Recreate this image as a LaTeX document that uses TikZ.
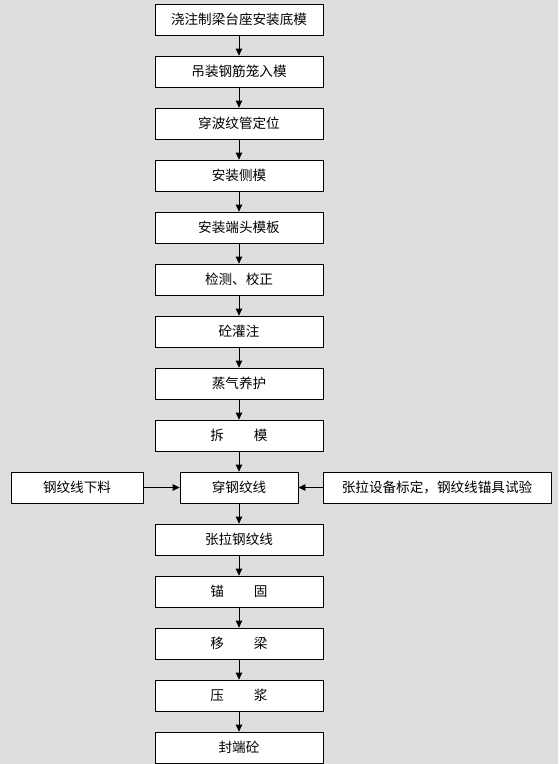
\documentclass[tikz,border=0pt]{standalone}
\usepackage{fontspec}
\setmainfont{Noto Sans CJK SC}
\usetikzlibrary{arrows.meta,positioning}
\definecolor{bggray}{RGB}{222,222,222}

\tikzset{
  stepbox/.style={draw,fill=white,line width=0.8pt,minimum height=31pt,inner sep=0pt,
    font=\fontsize{13.6}{15}\selectfont},
  flow/.style={line width=0.8pt,-{Triangle[length=7pt,width=6.5pt]}}
}

\begin{document}
\begin{tikzpicture}[x=1pt,y=-1pt]
% Background
\fill[bggray] (0,0) rectangle (558,764);
\useasboundingbox (0,0) rectangle (558,764);

% Main column
\foreach \i/\lab in {1/浇注制梁台座安装底模, 2/吊装钢筋笼入模, 3/穿波纹管定位,
    4/安装侧模, 5/安装端头模板, 6/检测、校正, 7/砼灌注, 8/蒸气养护,
    9/拆\hspace{2.2em}模, 11/张拉钢纹线, 12/锚\hspace{2.2em}固,
    13/移\hspace{2.2em}梁, 14/压\hspace{2.2em}浆, 15/封端砼} {
    \node[stepbox,minimum width=168pt] (s\i) at (239,{19.5+52*(\i-1)}) {\lab};
}

% Threading row
\node[stepbox,minimum width=118pt] (s10) at (239,487.5) {穿钢纹线};
\node[stepbox,minimum width=132pt] (cut) at (77,487.5) {钢纹线下料};
\node[stepbox,minimum width=228pt] (calib) at (437,487.5) {张拉设备标定，钢纹线锚具试验};

% Arrows
\foreach \i [evaluate=\i as \j using int(\i+1)] in {1,...,14} {
    \draw[flow] (s\i.south) -- (s\j.north);
}
\draw[flow] (cut.east) -- (s10.west);
\draw[flow] (calib.west) -- (s10.east);

\end{tikzpicture}
\end{document}
